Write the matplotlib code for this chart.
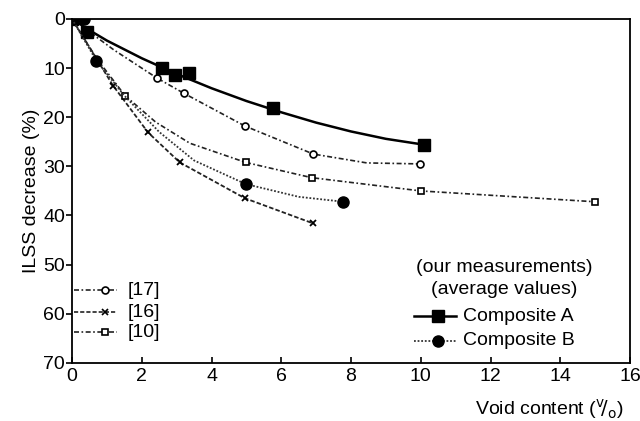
import numpy as np
import matplotlib.pyplot as plt

plt.rcParams['font.family'] = ['Liberation Sans', 'DejaVu Sans']

# Composite A (our measurements)
a_x = [0, 0.43, 2.57, 2.95, 3.35, 5.77, 10.1]
a_y = [0, 2.6, 10.0, 11.4, 11.0, 18.2, 25.6]
# fitted curve for composite A
a_fit_x = [0, 0.5, 1, 2, 3, 4, 5, 6, 7, 8, 9, 10.1]
a_fit_y = [0, 2.3, 4.4, 8.0, 11.2, 14.1, 16.7, 19.0, 21.1, 22.9, 24.4, 25.6]

# Composite B
b_x = [0.33, 0.7, 4.98, 7.78]
b_y = [0, 8.5, 33.6, 37.2]
b_line_x = [0, 0.7, 1.5, 2.5, 3.5, 4.98, 6.5, 7.78]
b_line_y = [0, 8.5, 15.6, 23.0, 28.8, 33.6, 36.2, 37.2]

# literature [17]
r17_x = [0, 2.43, 3.2, 4.96, 6.92, 9.97]
r17_y = [0, 12.0, 15.1, 21.8, 27.5, 29.5]
r17_line_x = [0, 1.2, 2.43, 3.2, 4.96, 6.92, 8.45, 9.97]
r17_line_y = [0, 6.3, 12.0, 15.1, 21.8, 27.5, 29.3, 29.5]

# literature [16]
r16_x = [0, 1.18, 2.18, 3.09, 4.96, 6.91]
r16_y = [0, 13.6, 23.1, 29.2, 36.5, 41.6]

# literature [10]
r10_x = [0, 1.52, 4.98, 6.87, 10.0, 14.98]
r10_y = [0, 15.6, 29.2, 32.3, 35.0, 37.2]
r10_line_x = [0, 0.7, 1.52, 2.4, 3.38, 4.98, 6.87, 10.0, 14.98]
r10_line_y = [0, 8.0, 15.6, 21.0, 25.3, 29.2, 32.3, 35.0, 37.2]

dashdot = (0, (3, 1.5, 1, 1.5))
dashed = (0, (2.5, 1.2))
dotted = (0, (1, 1))

fig = plt.figure(figsize=(6.4, 4.21), dpi=100)
ax = fig.add_axes([0.1125, 0.138, 0.872, 0.817])

ax.plot(r17_line_x, r17_line_y, color='#222222', lw=1.2, ls=dashdot)
ax.plot(r17_x, r17_y, ls='none', marker='o', ms=5, mfc='white', mec='black', mew=1.2)
ax.plot(r16_x, r16_y, color='#222222', lw=1.3, ls=dashed,
        marker='x', ms=5, mec='black', mew=1.3)
ax.plot(r10_line_x, r10_line_y, color='#222222', lw=1.2, ls=dashdot)
ax.plot(r10_x, r10_y, ls='none', marker='s', ms=5, mfc='white', mec='black', mew=1.2)

ax.plot(a_fit_x, a_fit_y, color='black', lw=1.8)
ax.plot(a_x, a_y, ls='none', marker='s', ms=8, color='black')

ax.plot(b_line_x, b_line_y, color='#333333', lw=1.3, ls=dotted)
ax.plot(b_x, b_y, ls='none', marker='o', ms=8, color='black')

ax.set_xlim(0, 16)
ax.set_ylim(70, 0)
ax.set_xticks(range(0, 17, 2))
ax.set_yticks(range(0, 71, 10))
ax.tick_params(axis='x', direction='in', labelsize=14, length=4, width=1.2)
ax.tick_params(axis='y', direction='out', labelsize=14, length=4, width=1.2, pad=1)
for s in ax.spines.values():
    s.set_linewidth(1.3)

ax.set_ylabel('ILSS decrease (%)', fontsize=14, labelpad=2)
ax.set_xlabel(r'Void content ($^{\rm v}\!/_{\rm o}$)', fontsize=14, labelpad=4)
ax.xaxis.set_label_coords(0.855, -0.1)

# left legend (literature)
leg_y = [55.2, 59.7, 63.8]
leg_lab = ['[17]', '[16]', '[10]']
leg_m = ['o', 'x', 's']
leg_ls = [dashdot, dashed, dashdot]
for yy, lab, m, ls in zip(leg_y, leg_lab, leg_m, leg_ls):
    ax.plot([0.05, 1.3], [yy, yy], color='#222222', lw=1.2, ls=ls)
    ax.plot([0.95], [yy], marker=m, ms=5, mfc='white', mec='black', mew=1.2)
    ax.text(1.6, yy, lab, fontsize=14, va='center', ha='left')

# right legend (our measurements)
ax.text(12.4, 50.5, '(our measurements)', fontsize=14, ha='center', va='center')
ax.text(12.4, 55.0, '(average values)', fontsize=14, ha='center', va='center')
ax.plot([9.8, 11.0], [60.5, 60.5], color='black', lw=1.8)
ax.plot([10.5], [60.5], marker='s', ms=8, color='black')
ax.text(11.2, 60.5, 'Composite A', fontsize=14, ha='left', va='center')
ax.plot([9.8, 11.0], [65.5, 65.5], color='#333333', lw=1.3, ls=dotted)
ax.plot([10.5], [65.5], marker='o', ms=8, color='black')
ax.text(11.2, 65.5, 'Composite B', fontsize=14, ha='left', va='center')

fig.savefig('out.png', dpi=100)
